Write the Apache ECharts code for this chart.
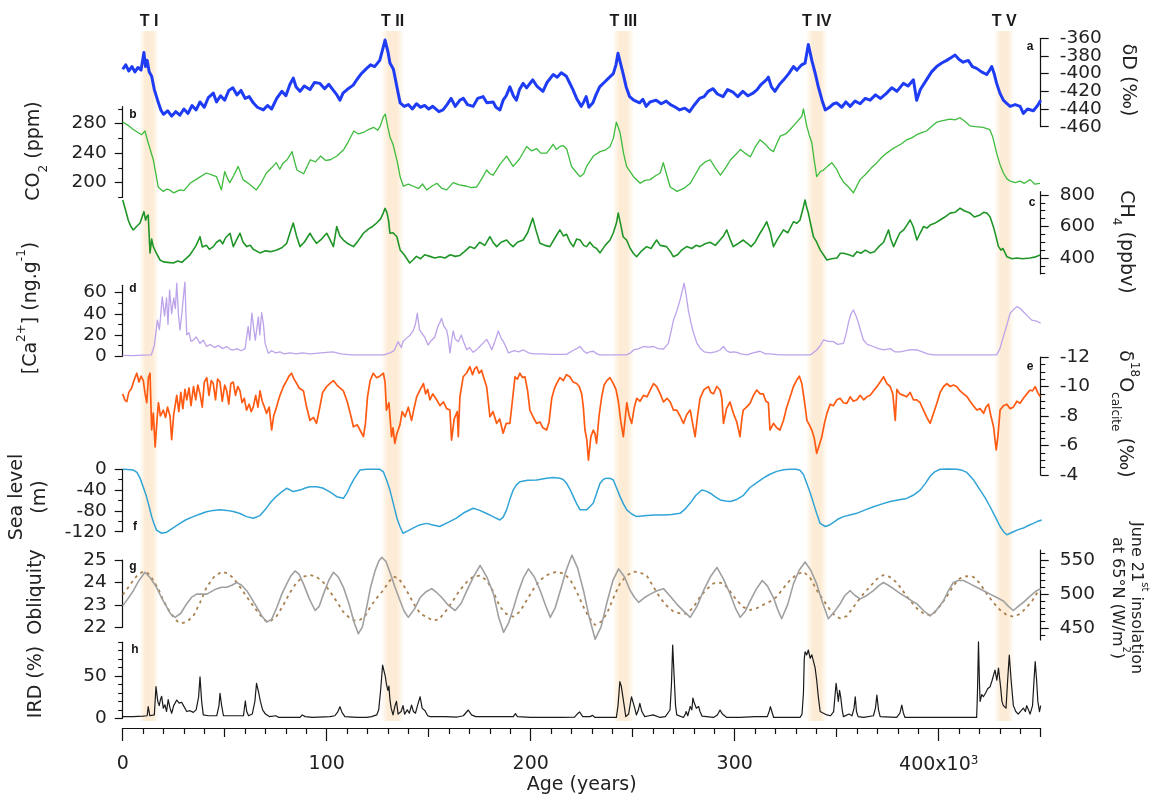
<!DOCTYPE html>
<html><head><meta charset="utf-8">
<script src="https://cdn.jsdelivr.net/npm/echarts@6/dist/echarts.min.js"></script>
<style>html,body{margin:0;padding:0;background:#fff}#c{width:1153px;height:800px}</style>
</head><body><div id="c"></div><script>
// ---------- DATA (age in kyr, value) ----------
const bandStart = [8.5, 127, 240.5, 335.3, 427.7];
const bandEnd   = [17.3, 137.6, 250.3, 345.1, 436.5];
const bandNames = ['T I', 'T II', 'T III', 'T IV', 'T V'];

const xMajor = [0, 100, 200, 300, 400];
const xMid = [50, 150, 250, 350, 450];
const xMinor = [10,20,30,40,60,70,80,90,110,120,130,140,160,170,180,190,210,220,230,240,260,270,280,290,310,320,330,340,360,370,380,390,410,420,430,440];

const dDTicks = [-460,-440,-420,-400,-380,-360];
const dDLabelsA = [-460,-420,-380], dDLabelsB = [-440,-400,-360];
const co2Ticks = [200,240,280], co2Minor = [180,220,260,300];
const ch4Ticks = [400,600,800], ch4Minor = [300,350,450,500,550,650,700,750];
const caTicks = [0,20,40,60], caMinor = [10,30,50];
const d18OTicks = [-12,-10,-8,-6,-4], d18OMinor = [-11.5,-11,-10.5,-9.5,-9,-8.5,-7.5,-7,-6.5,-5.5,-5,-4.5];
const seaTicks = [0,-40,-80,-120], seaMinor = [-20,-60,-100];
const oblTicks = [22,23,24,25];
const insTicks = [450,500,550], insMinor = [440,460,470,480,490,510,520,530,540,560];
const irdTicks = [0,50], irdMinor = [10,20,30,40,60,70,80,90];

const dD = [[0,-395],[1.5,-390],[3,-397],[4.5,-392],[6,-398],[7.5,-393],[9,-396],[10.4,-376],[11.2,-392],[12,-385],[13,-398],[14.2,-403],[15.5,-418],[17.1,-430],[18.7,-441],[20,-446],[22,-442],[24,-448],[26,-443],[28,-447],[30,-440],[32,-445],[34,-436],[36,-441],[37.9,-432],[40,-438],[42,-427],[44.4,-422],[46,-432],[48,-425],[50,-430],[52,-419],[54,-416],[56,-424],[58,-419],[60,-428],[62,-426],[64,-433],[66,-438],[68.9,-441],[71,-436],[73,-440],[75.5,-428],[78,-420],[80,-425],[82,-412],[83.6,-405],[85,-415],[86.9,-420],[89,-414],[91.8,-418],[94,-410],[96.7,-411],[99,-417],[101,-412],[103,-418],[105,-424],[106.5,-430],[108,-422],[110,-418],[113,-413],[115,-406],[117,-400],[119.6,-394],[121.5,-390],[123.5,-392],[126,-385],[127.5,-372],[128.6,-362],[130,-375],[131,-388],[132.7,-395],[134.5,-416],[136,-433],[138,-437],[140,-435],[142,-440],[144,-434],[146,-438],[148,-436],[150,-440],[152,-437],[155,-443],[157,-441],[159,-435],[161,-428],[163,-437],[165.3,-430],[167,-428],[169,-435],[171.8,-437],[174,-428],[176.7,-426],[178.5,-433],[181.6,-432],[183,-438],[184.9,-441],[186.5,-430],[188,-425],[189.8,-415],[191.5,-425],[193,-430],[194.5,-418],[196.3,-411],[198,-416],[200,-410],[201,-407],[203,-414],[206,-420],[208,-410],[211,-401],[213,-404],[215,-399],[217.5,-403],[219,-410],[220.7,-418],[222.5,-428],[224.8,-437],[226,-432],[227.2,-426],[228.5,-438],[230.5,-433],[232,-424],[233.8,-415],[236,-410],[238.7,-404],[240.5,-400],[241.8,-390],[242.8,-377],[244,-388],[245.2,-399],[246.8,-415],[248.5,-426],[250.5,-430],[253.4,-433],[255,-429],[256.6,-437],[258.5,-432],[261.5,-430],[264,-434],[266.4,-431],[268.5,-435],[271,-438],[273,-441],[275.5,-439],[277.9,-443],[280,-436],[282.8,-428],[285,-426],[287,-420],[289.4,-417],[291.5,-423],[294.3,-426],[296.5,-418],[299.2,-421],[301.5,-426],[304,-420],[306.5,-425],[309,-422],[311,-418],[313,-412],[315.5,-407],[316.5,-404],[318,-415],[319.7,-420],[322,-412],[324,-407],[326.5,-400],[328.8,-392],[330.5,-396],[332.8,-390],[334.5,-388],[336.1,-367],[337.8,-385],[339.5,-400],[341,-415],[342.8,-430],[344.4,-441],[346.5,-438],[348.5,-434],[350,-433],[352.5,-438],[354.5,-432],[356.6,-437],[359,-431],[361.5,-434],[364,-428],[366.4,-430],[369,-424],[371.5,-428],[374.5,-422],[377,-416],[379.5,-420],[382.7,-411],[385,-414],[387.6,-407],[389.2,-430],[391,-418],[394,-407],[396.5,-398],[399,-392],[401.5,-388],[403.9,-385],[406,-382],[408,-379],[410,-384],[412,-387],[414.5,-385],[416.5,-392],[418.6,-394],[421,-398],[423.5,-401],[425,-396],[426,-392],[427.2,-400],[428.4,-411],[430,-422],[431.7,-430],[433.5,-434],[435,-437],[437.5,-435],[439.9,-437],[441.5,-445],[443.5,-440],[446.4,-442],[448.5,-436],[450,-430]];

const co2 = [[0,282],[2.5,278],[5.2,272],[7.5,268],[9.3,265],[10.9,270],[12.5,254],[15,231],[17.4,194],[19.9,188],[21.5,191],[23,190],[25,186],[28,190],[30,189],[33,199],[37,206],[41,213],[44,210],[46,208],[48.4,190],[50,215],[51.5,205],[52.5,200],[54.5,210],[56.6,222],[59,204],[62,198],[65.5,190],[68,200],[70.4,213],[73,220],[75.3,227],[77,218],[78.5,226],[80.6,231],[83,242],[85.4,217],[88.7,212],[92,231],[94.5,228],[97,236],[99.5,230],[101.8,231],[105,236],[108.4,245],[110.5,255],[113.3,270],[115.5,266],[118,268],[120.5,272],[123,275],[125,271],[126.3,277],[127.7,289],[128.7,293],[130,275],[131,262],[132.5,252],[134.6,228],[136,208],[137.6,195],[140,198],[142.5,195],[145,192],[147,198],[149,190],[151.5,195],[154,199],[156.5,192],[158.8,190],[162,200],[165,197],[168.6,195],[171,193],[173.5,194],[176,205],[178.4,217],[180,212],[181.6,210],[185,225],[188.2,236],[191.4,222],[194.5,232],[198,249],[200.5,243],[202.9,246],[205,240],[207.8,240],[209.5,246],[211,252],[212.5,245],[214.4,249],[216,250],[217.6,246],[220,222],[222,215],[224.2,208],[226,212],[227.4,222],[230.7,236],[234,242],[236.5,244],[238.9,249],[240.5,260],[242,282],[243.8,268],[245.5,240],[247,222],[250.4,208],[253.7,199],[256,203],[258.6,204],[261,209],[263.5,213],[265,227],[266.5,212],[268.4,194],[271.7,188],[275,192],[278.2,199],[280.5,210],[283,222],[285.5,228],[288,231],[290.5,220],[293,210],[295.5,220],[298,231],[300.5,238],[302.8,245],[305,240],[307.7,235],[310,248],[312.4,258],[315,252],[317.3,245],[319,242],[320.5,252],[322.3,263],[325,266],[327.2,272],[330.4,282],[332.9,290],[333.7,300],[335.3,277],[336.5,265],[337.8,254],[339,230],[340.2,208],[342,215],[343.5,217],[345.5,222],[347.6,227],[350,218],[351.7,208],[353.5,200],[355.8,194],[358.2,186],[360,196],[361.5,204],[364.8,213],[367,220],[369.7,227],[372,234],[374.5,240],[377,245],[379.4,249],[382,253],[384.3,258],[387,261],[389.2,265],[392,268],[394,270],[396.5,276],[399,282],[402,284],[405.5,286],[408,285],[410.4,288],[413,283],[415.3,277],[418,276],[421.8,275],[425,272],[426.5,262],[428.4,240],[430,225],[431.7,213],[433.5,205],[435,202],[437.5,200],[439.9,202],[442,199],[444.8,204],[447,198],[449.7,199]];

const ch4 = [[0,768],[1.5,700],[2.7,641],[4,600],[5.2,578],[6.8,600],[8.5,622],[9.5,660],[10.4,694],[11.2,640],[11.7,660],[12.5,673],[13.4,432],[14.2,520],[15,472],[16.5,430],[18.3,387],[20,375],[22,372],[24.8,368],[27,380],[29,372],[31.4,400],[33,420],[34.6,451],[36,480],[37.9,535],[39,470],[41,480],[42.5,455],[44.4,472],[46,500],[47.7,514],[49,490],[50.5,530],[52.6,557],[54.2,472],[56,520],[57.5,557],[59,500],[60.8,472],[62.5,480],[64,455],[67.3,432],[70,445],[72.5,440],[75.5,451],[78,465],[80.4,493],[82,560],[83.6,622],[85.2,540],[86.9,472],[89,500],[91.8,557],[93.5,520],[95,493],[97.5,520],[100,557],[101.5,520],[103.3,472],[104.9,599],[106.5,540],[108.2,514],[110.5,490],[113.1,472],[115.5,510],[118,557],[120.5,585],[122.5,600],[124.5,622],[126.5,650],[127.7,685],[128.6,715],[129.5,690],[130.3,640],[131,557],[132.5,560],[134.4,535],[136,451],[138,420],[140.7,368],[142.5,390],[144,410],[146,395],[148,420],[150.6,410],[153,400],[155.5,408],[158,400],[160.5,420],[163,410],[165.3,416],[167.5,440],[170.2,472],[172.5,460],[175,500],[177.5,480],[180,535],[181.5,500],[183.3,472],[185.5,500],[188.2,514],[189.8,490],[191.4,472],[193.5,500],[196.3,514],[198.5,560],[201,653],[202.5,580],[204.5,493],[207,480],[209.4,472],[212,530],[214.3,578],[216,540],[217.6,550],[219.3,500],[220.9,472],[222.5,520],[224.2,514],[226,480],[227.4,472],[229,500],[230.7,472],[232.3,460],[234,432],[236.5,480],[238.9,514],[240.5,560],[242,620],[242.9,685],[244,620],[245.3,535],[247,514],[248.8,460],[250.3,430],[251.9,408],[254,440],[256.8,472],[259,460],[261.7,514],[263.5,480],[266.6,472],[268.5,440],[269.9,408],[272,420],[274,450],[276.4,472],[279,460],[281,480],[283,472],[285.5,490],[287.9,500],[290.5,480],[292.8,514],[294.5,540],[296.1,578],[297.7,520],[299.3,472],[301.5,490],[304.2,514],[306.5,490],[308,472],[310,500],[312.4,557],[314,590],[315.7,630],[317.5,560],[319,472],[321,520],[323.9,578],[326,560],[328.8,630],[330.5,620],[332,641],[333.2,700],[334.5,768],[335.3,720],[336.1,685],[337.5,600],[338.6,535],[340.2,500],[341.9,451],[343.5,420],[345.2,387],[347.5,395],[350.1,400],[351.8,430],[353.4,430],[356,420],[358,410],[359.9,440],[362,430],[364,450],[366.4,432],[368.5,440],[370.5,470],[373,500],[374.2,540],[375.4,578],[376.5,520],[377.9,472],[379.5,520],[381,560],[382.8,578],[384.5,610],[386,641],[387.5,600],[389.3,514],[391,560],[392.6,600],[394.2,590],[395.8,609],[398,620],[400.7,641],[403,660],[405.6,685],[408,690],[410.5,716],[412.5,700],[415.4,685],[417.5,660],[420.3,673],[422,690],[423.6,685],[425.2,660],[426.8,599],[428,540],[429.3,472],[430.5,450],[431.5,460],[433.4,408],[436,395],[438.3,400],[441,395],[444.8,400],[447,405],[449.7,419]];

const ca = [[0,0.5],[5,0.3],[10,0.8],[14,1],[15.5,10],[17,34],[18,25],[19.4,56],[20.5,38],[21.5,55],[22.2,30],[23,62.6],[24,40],[25,55],[25.8,45],[26.5,69],[27.3,40],[28.1,24.6],[29,40],[29.7,55],[30.5,70],[31,40],[31.4,20],[32.5,22],[33.5,14],[34.6,15],[36,18],[37.9,12],[39.5,15],[41.1,9],[43,11],[45,8],[47,10],[49,7],[51,9],[53,6],[54.2,5.7],[56,7],[58,5],[60,7],[61.5,28],[62.3,15],[63.3,40.6],[64.3,25],[65,15],[66.5,37],[67.2,20],[68.1,41],[69,30],[69.8,12],[71.4,2.5],[73,5],[75,3],[77.1,4],[79,2],[82,3],[85,2],[88,3],[92,2],[97,3],[103,4],[107,2],[112,1],[120,1],[128,1],[131,3],[133,5],[135,13.6],[136.5,8],[137.5,14],[139,16.7],[141,20],[142.5,24.6],[143.5,30],[144.4,40.5],[145.5,25],[146.5,22],[148,18],[149.7,10.4],[151,14],[153,18],[154.5,28],[155.5,32],[156.3,35.7],[157.5,28],[158.8,24.6],[159.5,18],[160.4,3],[161.2,14],[162,23.7],[163,16],[164.5,13.6],[166,19.9],[167,14],[168.6,6],[170,8],[171.8,3.5],[173.5,6],[175,9],[176.5,12],[178.4,15.8],[179.5,12],[180.9,6],[182.5,14],[184.1,23.7],[185.5,17],[186.6,13.6],[188,8],[189,3],[192,5],[194,4],[196.4,5.7],[199,3],[201.3,2],[205,2],[210,1.5],[217.6,1.5],[220.5,5],[222.5,7],[224.2,9],[225.8,5],[227.4,2.5],[229,4],[230.7,4.5],[232.5,2],[234,1],[240,1],[247,1],[249,3],[250.4,5.7],[253,7],[255.3,9],[258,8.5],[260.2,9],[262.5,7],[265.1,6.6],[267.5,12],[269,25],[270,34],[271.5,42],[273.2,53],[274.3,62],[275.2,69],[276.2,58],[277.3,43],[278.5,32],[279.8,22],[281.5,12],[283,7.6],[285,4],[287.9,3],[290.5,4],[292.8,5.7],[294.5,9],[296,5],[297.7,3.5],[299.5,4],[301,3.5],[303,2],[306,1],[309,3],[312.4,4.5],[315,2],[317.3,2],[322,1],[328,1],[336.9,1],[338.5,3],[340.2,5.7],[342,10],[343.5,15.2],[345.5,14],[348.4,13.6],[350.5,11],[353.3,12],[354.5,20],[355.7,31],[357,40],[358.2,43.6],[359.5,38],[360.7,31],[362,22],[363.1,15.2],[365,11],[368,9],[370.5,7],[373,5.7],[376.2,7],[378.5,4],[381.1,4],[384,5],[386.5,6],[389.3,5.7],[392,4],[394.5,2],[397.5,1],[403,1],[408.9,1],[415,1],[420,1],[428.4,1],[430,7],[431.7,18.3],[433.5,30],[435,40.5],[436.7,44],[438.3,46.8],[440,45],[441.5,42],[443.5,38],[445.6,34],[448,33],[450,31]];

const d18O = [[0,-9.5],[1,-9.1],[2,-8.97],[3,-9.6],[4.4,-9.9],[5.5,-10.4],[6.9,-10.9],[8,-10.3],[9,-10.7],[10.1,-10.4],[11,-9.5],[11.8,-8.9],[12.6,-10.6],[13.4,-10.9],[14.2,-7.05],[15,-8.2],[15.9,-5.9],[16.7,-7.5],[17.5,-8.9],[18.5,-8.0],[19.9,-8.4],[21,-7.9],[22,-8.6],[23.2,-8.0],[24,-6.4],[25,-8.1],[26.5,-9.4],[27.5,-8.3],[28.5,-9.6],[29.5,-8.5],[30.5,-9.8],[31.4,-9.1],[32.5,-9.9],[33.5,-8.7],[34.7,-10.0],[35.8,-9.1],[36.8,-10.1],[37.9,-9.5],[39,-8.6],[40,-10.3],[41.2,-10.6],[42.3,-9.4],[43.4,-10.4],[44.4,-10.2],[45.5,-9.1],[46.5,-10.5],[47.7,-10.3],[48.8,-9.0],[50,-10.1],[51,-9.7],[52,-8.8],[53,-10.2],[54.2,-10.3],[55.3,-9.4],[56.4,-10.0],[57.5,-9.7],[58.5,-8.9],[59.6,-9.2],[60.7,-8.4],[62,-8.8],[63,-8.3],[64,-8.6],[65.2,-9.4],[66.3,-8.6],[67.3,-9.7],[68.4,-9.0],[69.5,-8.6],[70.5,-8.18],[71.8,-8.6],[73,-7.05],[74,-8.0],[75.2,-8.5],[76.2,-9.0],[77.1,-9.4],[78.8,-10.0],[80.4,-10.4],[81.5,-10.7],[82.8,-10.9],[84,-10.5],[85.3,-10.2],[86.5,-9.9],[88.6,-9.7],[90,-8.7],[91.8,-7.7],[93.5,-7.9],[95,-7.5],[96.5,-8.5],[98,-9.6],[100,-10.0],[101.5,-10.2],[103.3,-10.4],[105,-10.1],[106.5,-9.9],[108.2,-9.7],[110,-9.0],[111.5,-8.2],[113.1,-7.27],[115,-7.4],[116.5,-7.0],[118,-6.6],[119,-7.5],[120,-9.3],[121.3,-10.4],[122.8,-10.9],[124.5,-10.6],[126,-10.7],[127.8,-10.9],[128.6,-10.3],[129.3,-8.4],[130.5,-8.9],[131.8,-6.6],[132.5,-7.2],[133.4,-6.15],[134.4,-6.8],[135.9,-7.4],[137,-8.3],[138.4,-7.95],[140,-8.6],[141.6,-7.7],[142.8,-8.5],[144.1,-9.3],[145.5,-9.7],[147.4,-10.2],[148.5,-9.5],[149.5,-9.8],[150.6,-9.1],[152,-9.5],[153.9,-9.1],[155.5,-8.7],[157.2,-8.95],[158.8,-8.5],[160.4,-8.4],[161.2,-6.37],[162.5,-7.8],[164,-8.3],[164.5,-6.6],[165.3,-9.3],[166.9,-10.66],[168.5,-10.9],[170.2,-11.34],[171.5,-10.8],[172.5,-11.2],[173.5,-11.34],[174.7,-10.9],[175.9,-11.1],[177,-10.6],[178.4,-9.99],[179.2,-9.0],[180,-7.95],[181.5,-8.3],[183.3,-7.5],[184.8,-7.8],[186.5,-6.83],[188,-7.5],[189.8,-7.5],[191,-9.0],[192.3,-10.66],[193.5,-10.5],[194.7,-10.9],[196,-10.6],[197.2,-10.66],[198.5,-9.7],[199.6,-8.4],[201.3,-7.9],[202.9,-7.5],[204.5,-7.6],[206,-7.2],[207.8,-7.05],[209,-7.6],[210.3,-9.2],[211.5,-9.8],[212.7,-10.2],[214.3,-10.6],[216,-10.4],[217.5,-10.8],[219.2,-10.66],[220.8,-10.3],[222.5,-10.2],[223.8,-10.0],[225,-9.5],[225.8,-8.6],[226.6,-7.05],[227.5,-6.4],[228.3,-5.0],[229.5,-6.6],[230.7,-7.05],[231.5,-6.8],[232.3,-6.15],[233.5,-8.0],[234.8,-9.3],[236,-10.1],[237.3,-10.4],[238.9,-10.6],[240.5,-10.2],[241.8,-9.8],[243,-8.95],[244.2,-7.6],[245.4,-6.6],[246.3,-7.8],[247.1,-8.9],[248.3,-8.0],[249.5,-7.5],[250.8,-8.6],[252,-9.2],[253.6,-9.0],[255.3,-9.4],[257,-9.3],[258.6,-9.76],[260.2,-10.2],[261.8,-9.99],[263.5,-9.5],[265.1,-8.95],[266.8,-9.2],[268.4,-8.95],[270,-8.4],[271.6,-8.4],[273.2,-8.0],[274.9,-7.5],[276.5,-8.1],[278.2,-8.4],[279.5,-7.4],[280.6,-6.6],[281.8,-8.0],[283,-9.2],[285,-9.8],[287.1,-9.99],[288.3,-9.6],[289.6,-9.5],[291.2,-10.0],[292.8,-9.76],[293.7,-9.2],[294.5,-7.5],[296,-8.5],[297.7,-8.95],[299.3,-8.2],[301,-7.6],[302.6,-6.6],[303.5,-7.8],[304.2,-8.4],[305.8,-8.6],[307.5,-8.86],[309.2,-9.4],[310.8,-9.76],[312.5,-9.5],[314,-9.5],[315.3,-9.0],[316.5,-8.9],[317.3,-7.05],[319,-7.5],[320.6,-7.2],[322.2,-7.05],[323.9,-7.7],[325.5,-8.6],[327.2,-9.3],[328.8,-10.0],[330.4,-10.44],[331.7,-10.7],[332.9,-10.2],[334.2,-9.0],[335.4,-7.7],[336.6,-7.4],[337.8,-7.05],[339,-6.5],[340.2,-5.47],[341.4,-6.0],[342.7,-6.6],[344,-7.5],[345.2,-8.18],[346.8,-8.8],[348.4,-8.7],[350.1,-9.1],[351.7,-9.2],[353.3,-8.9],[355,-8.86],[356.6,-9.3],[358.2,-9.0],[359.9,-9.1],[361.5,-9.4],[363.2,-9.1],[364.8,-9.3],[366.4,-9.4],[368,-9.7],[369.7,-9.99],[371.3,-10.3],[373,-10.66],[374.6,-10.2],[376.2,-10.0],[377.5,-9.5],[378.7,-7.7],[379.5,-9.8],[381,-9.5],[382.7,-9.4],[384.3,-9.3],[386,-9.6],[387.6,-9.1],[389.2,-9.1],[390.9,-8.9],[392.5,-8.4],[394.2,-7.9],[395.8,-7.5],[397.5,-8.2],[399.1,-8.86],[400.7,-9.6],[402.4,-10.0],[404,-10.2],[405.6,-10.0],[407.3,-10.1],[408.9,-9.99],[410.5,-9.7],[412.2,-9.5],[413.8,-9.32],[415.4,-9.0],[417,-8.7],[418.7,-8.4],[420.3,-8.5],[422,-8.18],[423.2,-8.6],[424.4,-8.8],[425.6,-8.0],[426.9,-7.27],[427.6,-6.4],[428.2,-5.7],[429,-6.6],[430.1,-8.4],[431.7,-8.7],[433.4,-8.8],[435,-8.5],[436.6,-8.6],[438.3,-9.0],[439.9,-8.86],[441.5,-9.2],[443.2,-9.5],[444.8,-9.76],[446,-9.7],[447.3,-9.99],[448.5,-9.6],[449.7,-9.32]];

const sea = [[0,0],[2.5,-0.5],[5.2,-1.5],[7,-6],[8.5,-17],[10,-33],[11.7,-53],[13,-72],[14.2,-91],[15.4,-105],[16.6,-117],[19.1,-123],[21.6,-121],[24.5,-113],[28.1,-104],[31,-97],[34.6,-91],[38,-86],[41.1,-81.5],[44.5,-79],[47.7,-78],[51,-79],[54.2,-81],[57.5,-85],[60.7,-91],[64,-94],[67.3,-89],[70,-77],[72.2,-65],[74.5,-55],[77.1,-46],[80.4,-36.5],[83.6,-42.8],[86.9,-40],[89.5,-36],[91.8,-33.4],[95,-33.4],[98,-36],[100,-40],[102.5,-46],[104.9,-52.6],[108.2,-55.8],[110,-45],[111.4,-33],[113.5,-18],[116.3,-1.3],[119.6,0],[123,0],[126.1,0],[127.8,-5],[129.3,-20],[131,-40],[132.6,-65],[134.5,-95],[135.9,-110],[137.4,-123],[140,-118],[142.3,-113],[145.5,-107],[148.9,-104],[152,-107],[155.4,-110],[159.5,-102],[163.6,-94],[167.5,-83],[171.8,-75],[175,-79],[178.4,-85],[181.5,-91],[184.9,-97.5],[186.5,-92],[188.2,-78],[190,-55],[191.4,-40],[193,-30],[194.7,-23.8],[198.5,-21],[202.9,-20.5],[207.8,-17],[211,-16],[214.3,-17],[216,-20],[217.6,-27],[219.2,-38],[220.9,-52.6],[222.5,-66],[224.2,-78],[227.4,-78],[229,-72],[230.7,-65],[232.4,-45],[234,-27],[235.7,-19],[237.3,-17],[239,-17.5],[240.5,-20.5],[242,-35],[243.8,-52.6],[245.5,-67],[247.1,-78],[249.5,-86],[252,-91],[256.9,-89],[261,-88],[265.1,-88],[269,-87],[273.2,-84.7],[275.8,-76],[278.2,-65],[281,-50],[283.9,-39.8],[286,-42],[288,-46],[290.5,-53],[292.9,-59],[295.5,-61],[297.8,-62],[301,-58],[304.3,-50],[307.5,-35],[310,-28],[314,-17],[317,-10],[320.6,-4],[324,-1],[327.1,0],[330,0],[332,-2],[333.7,-10],[335.3,-27],[337,-45],[338.6,-65],[340.2,-85],[341.9,-104],[344.4,-110],[346.5,-107],[348.4,-102],[351,-95],[353.3,-91],[356.5,-88],[359.8,-84.7],[364,-78],[368,-72],[372,-67],[376.2,-62],[380,-59],[384.3,-56],[387.5,-50],[390.9,-40],[393.5,-27],[395.8,-13.4],[398,-5],[400.7,0],[404,0.5],[408.9,0],[411.5,-2],[413.8,-6],[417,-20],[420.3,-40],[422.8,-55],[425.2,-72],[427.8,-92],[430.1,-110],[431.8,-120],[433.4,-126],[435,-123],[436.6,-120],[439,-116],[441.5,-113],[444,-108],[446.4,-104],[448.5,-100],[450.5,-97.5]];

const obliquity = [[0,23.45],[2.5,23.75],[5.2,24.1],[7.5,24.35],[10,24.48],[12.5,24.4],[15,24.1],[17.5,23.7],[19.9,23.2],[22.3,22.8],[24.8,22.47],[27,22.25],[28.9,22.18],[31.5,22.25],[34.6,22.5],[37.9,23.1],[41.2,23.8],[44.8,24.25],[48.5,24.48],[51.5,24.4],[54.2,24.2],[57.5,23.8],[60.8,23.36],[64,22.95],[67.3,22.55],[70,22.3],[72.2,22.25],[75.5,22.5],[78.8,23.0],[82,23.55],[85.3,24.0],[88.5,24.25],[91.8,24.33],[95,24.25],[98.4,24.0],[101.5,23.6],[104.9,23.15],[108,22.7],[111.4,22.4],[114,22.3],[116.3,22.33],[118.8,22.5],[121.3,22.9],[124.5,23.3],[127.8,23.66],[130.2,24.0],[132.6,24.26],[135,24.2],[137.5,23.9],[140,23.5],[143,23.0],[146,22.6],[149,22.46],[152,22.3],[155,22.35],[158.8,22.77],[162,23.2],[165.3,23.66],[168.5,24.0],[171.8,24.26],[175,24.3],[178.4,24.1],[181.6,23.6],[184.9,22.92],[188,22.6],[191.4,22.47],[194.7,22.7],[198,23.2],[201.3,23.7],[204.5,24.1],[208.5,24.35],[212.7,24.48],[216,24.4],[219.2,24.15],[222.5,23.6],[225.8,22.92],[228.5,22.45],[231.5,22.1],[234.5,22.25],[237.3,22.6],[240.5,23.3],[243.8,23.96],[247,24.3],[250.4,24.48],[253.5,24.45],[256.9,24.3],[260.2,23.8],[263.5,23.3],[266.8,22.95],[270,22.7],[273.2,22.62],[276.5,22.6],[279.8,22.9],[283,23.36],[286.3,23.7],[289.6,23.96],[292,24.0],[294.5,23.96],[297.8,23.6],[301,23.2],[304.2,22.9],[307.5,22.77],[310.8,22.85],[314,23.0],[317.3,23.15],[320.6,23.36],[323.9,23.75],[327.1,24.1],[330.4,24.35],[333.7,24.48],[337,24.2],[340.2,23.66],[343.5,23.2],[346.8,22.77],[349.3,22.5],[351.7,22.4],[355,22.5],[358.2,22.9],[362.3,23.4],[366.3,23.81],[369.6,24.15],[372.9,24.33],[376,24.25],[379.4,24.0],[382.6,23.6],[385.9,23.2],[389.2,22.85],[392.5,22.62],[395,22.55],[397.4,22.6],[400.6,22.95],[403.9,23.36],[407.2,23.85],[410.4,24.18],[413.7,24.28],[417,24.25],[420.3,23.95],[423.5,23.5],[426.8,23.1],[430.1,22.77],[433.4,22.55],[436.6,22.47],[440,22.6],[443.2,22.9],[446,23.2],[448,23.5],[450,23.7]];

const insolation = [[0,483],[2.5,493],[5.2,505],[8,520],[10.9,532],[13.5,524],[16.6,510],[19,495],[21.6,481],[23.5,471],[25.7,466],[28.5,472],[31.4,486],[34,496],[36.3,500],[38.8,500],[41.2,500],[43.6,504],[46.1,508],[48.5,510],[51,510],[53.5,513],[55.9,517],[58.3,513],[60.8,505],[63.3,493],[65.7,481],[68.2,468],[70.6,459],[73,463],[75.5,480],[78,500],[80.4,515],[82.5,527],[84.5,534],[86.5,529],[88.6,515],[91.5,493],[94.3,476],[96.3,482],[98.4,500],[101,520],[103.3,532],[105.7,525],[108.2,510],[111,485],[113.5,458],[115.5,442],[117.5,452],[119.6,481],[121.5,510],[123.7,534],[125.5,548],[127,554],[129,548],[131,532],[133.5,510],[136,490],[138,475],[140,466],[143,478],[145.8,495],[148.5,503],[151.5,508],[154,502],[156.4,495],[159.8,483],[163,476],[166,487],[168.7,505],[171.9,525],[175.2,542],[178.5,525],[181.8,500],[184.3,466],[186.7,444],[189.2,458],[191.6,480],[194,504],[196.6,525],[198.9,537],[201.8,525],[204.7,505],[207.2,484],[209.6,466],[212,480],[214.5,505],[217.4,535],[220.2,557],[223,538],[225.9,505],[228.7,466],[231.6,434],[234.5,452],[237.4,488],[240.3,520],[243.1,537],[246,525],[248.8,505],[250.9,495],[252.9,488],[255.8,495],[258.6,500],[261.9,505],[265.1,508],[268.4,497],[271.7,485],[275,475],[278.2,466],[281.5,482],[284.7,505],[288,525],[291.3,539],[294.5,522],[297.8,500],[300.3,480],[302.7,466],[305.2,475],[307.6,490],[310.5,507],[313.5,520],[316,512],[319,495],[321,478],[323,464],[326,485],[328.8,515],[331.6,535],[334.5,547],[337.3,535],[340.2,515],[343,488],[345.9,464],[348.8,474],[351.7,486],[354,498],[356.6,505],[359,498],[361.5,493],[364.8,498],[368,505],[370.5,512],[372.9,517],[375.3,513],[377.8,508],[381,501],[384.3,495],[386.8,490],[389.2,486],[392.5,476],[395.8,468],[399,477],[402.3,490],[404.8,505],[407.2,517],[409.6,520],[412.1,520],[415.4,515],[418.6,510],[422,505],[425.2,500],[428.5,495],[431.7,490],[434.2,482],[436.6,476],[439,482],[441.5,488],[444.8,497],[448,505],[450,508]];

const ird = [[0,2],[5,2],[10,2.5],[12,3],[12.5,13.7],[13.3,3],[15.5,4],[16.3,37.4],[17.2,20],[17.9,15],[18.5,22],[19.1,26],[19.9,12],[20.7,16],[21.5,8],[22.3,22],[23.2,12],[24,6],[25,15],[26.5,21.6],[27.7,18],[28.9,19],[29.8,15],[31.4,8],[33,9],[34.6,7],[36,10],[37.2,25],[37.9,49],[38.7,20],[39.5,4],[42,3],[46.1,3],[47.2,15],[47.7,29.5],[48.5,15],[49.4,3],[55,3],[59.2,3],[60.1,20.5],[60.8,8],[61.7,3],[63.5,5],[64.8,20],[65.6,41.4],[66.5,32],[67.5,20],[68.6,10],[70,5],[71.9,2],[75.1,3],[76.5,1],[86.9,1],[88,4],[88.6,5.5],[89.5,2],[93,1],[101.7,2],[104,3],[105.5,8],[106.5,13.7],[107.5,7],[108.9,2],[115,1],[119.6,1],[122,2],[124.5,4],[125.5,10],[126.5,35],[127.4,63],[128,65],[128.7,50],[129.3,40],[130,33],[130.5,38],[131,22],[131.6,12],[132.5,4],[133.5,15],[134.2,20],[135,5],[136.5,8],[137.4,15],[138.2,5],[139.5,10],[140.5,6],[141.6,15.5],[142.5,8],[143.5,6],[144.5,15],[145.8,25.5],[146.8,12],[148.2,9],[149.5,3],[150.7,2],[158,2],[164,1.5],[167,3],[169.4,9.8],[171,4],[173,2],[180,2],[188,2],[191.5,2],[192.5,5.5],[193.5,2],[200,1],[215,1],[221.5,1.5],[222.8,5],[224,7.5],[225.5,2],[229,2],[230.4,3.5],[231.5,1],[242,1],[242.8,15],[243.7,43.3],[244.4,38],[245.3,37.4],[246,12],[246.6,2],[248,5],[249,20],[249.4,25.5],[250.3,18],[251,12],[251.8,4],[252.8,10],[253.5,17.7],[254.5,8],[255.9,2],[258,3],[260,4],[263.4,1],[266,2],[268.3,9.8],[269,40],[269.6,86.6],[270.3,50],[271,15],[271.6,4],[274.9,1],[275.8,5],[276.2,8],[277,3],[278.2,14],[279,10],[279.5,24],[280.2,18],[281.2,12],[282.3,14],[283,8],[284,2.5],[289.6,1],[291.5,4],[292.8,9.8],[294,5],[296.1,1],[302.6,1],[310,2],[316,2],[317,9],[317.5,13.7],[318.2,8],[319.1,1],[332,1],[333,5],[333.7,30],[334.1,70],[334.5,78.7],[335.3,75],[336.1,80.7],[337,71],[337.8,75],[338.6,72.8],[339.4,60],[340.2,45],[341,25],[341.9,8],[343.5,6],[345.2,4],[347,3],[348.5,8],[349.7,41.4],[350.3,30],[350.8,20],[351.4,33],[352,24.5],[352.7,10],[353.3,2],[356,5],[357.5,3],[358.5,12],[359.1,25.5],[359.7,8],[360.5,2],[363.2,1],[368,3],[369,12],[369.7,27.5],[370.5,10],[371.3,2],[379.4,1],[381,6],[381.9,15.5],[382.7,6],[383.5,1],[418.6,1],[419,30],[419.5,90.5],[420,40],[420.3,20],[421.1,28],[421.9,25.5],[423,30],[424,35],[425.2,37.4],[426.2,45],[427,52],[427.6,57],[428.5,45],[429.3,59.4],[430.4,36],[431,20],[431.7,15],[433,12],[433.8,45],[434.6,74.8],[435.5,45],[436.6,15],[437.8,8],[439,5],[440,8],[441.5,12],[442.5,8],[443.1,15],[444,10],[444.8,5],[446,15],[446.6,40],[447.3,67],[448,45],[448.6,20],[449.4,8],[450,15]];

// ---------- CHART ----------
const FONT = 'DejaVu Sans';
const TXT = '#222';
const LEFT = 122.7, RIGHT = 112.3;
const grids = [
  {top: 31, height: 690},      // 0 bands
  {top: 38.3, height: 88.4},   // 1 dD
  {top: 106.7, height: 90.6},  // 2 CO2
  {top: 191.7, height: 82.3},  // 3 CH4
  {top: 285.3, height: 70.7},  // 4 Ca
  {top: 357, height: 118},     // 5 d18O
  {top: 469.3, height: 62.4},  // 6 sea level
  {top: 560, height: 67.3},    // 7 obliquity
  {top: 550, height: 90},      // 8 insolation
  {top: 642.2, height: 76.1}   // 9 IRD
].map(g => Object.assign({left: LEFT, right: RIGHT, containLabel: false}, g));

const xAxes = grids.map((g, i) => ({gridIndex: i, type: 'value', min: 0, max: 450, show: false}));
xAxes[9] = {
  gridIndex: 9, type: 'value', min: 0, max: 450, position: 'bottom', offset: 9.7, show: true,
  axisLine: {show: true, onZero: false, lineStyle: {color: '#111', width: 1.2}},
  axisTick: {show: true, customValues: xMajor, length: 13, lineStyle: {color: '#111', width: 1.2}},
  axisLabel: {show: true, customValues: xMajor, margin: 27, fontFamily: FONT, fontSize: 19, color: TXT,
    showMinLabel: true, showMaxLabel: true,
    formatter: v => v === 400 ? '400x10{sup|3}' : String(v),
    rich: {sup: {fontSize: 12, fontFamily: FONT, color: TXT, verticalAlign: 'top', padding: [0, 0, 8, 0]}}},
  splitLine: {show: false},
  name: 'Age (years)', nameLocation: 'middle', nameGap: 48,
  nameTextStyle: {fontFamily: FONT, fontSize: 19, color: TXT}
};
[[xMid, 9], [xMinor, 6]].forEach(([vals, len]) => xAxes.push({
  gridIndex: 9, type: 'value', min: 0, max: 450, position: 'bottom', offset: 9.7, show: true,
  axisLine: {show: false, onZero: false},
  axisTick: {show: true, customValues: vals, length: len, lineStyle: {color: '#111', width: 1.2}},
  axisLabel: {show: false}, splitLine: {show: false}
}));

const yAxes = [];
const labelStyle = pos => ({show: true, margin: pos === 'left' ? 16 : 19,
  showMinLabel: true, showMaxLabel: true, hideOverlap: false,
  fontFamily: FONT, fontSize: 18.5, color: TXT});
function addY(grid, pos, min, max, majors, minors, inverse, labelSets) {
  const idx = yAxes.length;
  const sets = labelSets || [majors];
  yAxes.push({gridIndex: grid, type: 'value', position: pos, min, max, inverse: !!inverse,
    axisLine: {show: true, onZero: false, lineStyle: {color: '#111', width: 1.2}},
    axisTick: {show: true, customValues: majors, length: 8, lineStyle: {color: '#111', width: 1.2}},
    axisLabel: Object.assign(labelStyle(pos), {customValues: sets[0]}),
    splitLine: {show: false}});
  sets.slice(1).forEach(s => yAxes.push({gridIndex: grid, type: 'value', position: pos, min, max, inverse: !!inverse,
    axisLine: {show: false, onZero: false}, axisTick: {show: false},
    axisLabel: Object.assign(labelStyle(pos), {customValues: s}), splitLine: {show: false}}));
  if (minors && minors.length) yAxes.push({gridIndex: grid, type: 'value', position: pos, min, max, inverse: !!inverse,
    axisLine: {show: false, onZero: false},
    axisTick: {show: true, customValues: minors, length: 4.5, lineStyle: {color: '#111', width: 1.1}},
    axisLabel: {show: false}, splitLine: {show: false}});
  return idx;
}
const yBand = yAxes.length; yAxes.push({gridIndex: 0, type: 'value', min: 0, max: 1, show: false});
const yD = addY(1, 'right', -460, -360, dDTicks, [], false, [dDLabelsA, dDLabelsB]);
const yCO2 = addY(2, 'left', 180, 303, co2Ticks, co2Minor);
const yCH4 = addY(3, 'right', 298, 821, ch4Ticks, ch4Minor);
const yCa = addY(4, 'left', 0, 67, caTicks, caMinor);
const yO = addY(5, 'right', -12, -4, d18OTicks, d18OMinor, true);
const ySea = addY(6, 'left', -120, 0, seaTicks, seaMinor);
const yObl = addY(7, 'left', 22, 25, oblTicks, []);
const yIns = addY(8, 'right', 432.8, 564.6, insTicks, insMinor);
const yIrd = addY(9, 'left', 0, 90, irdTicks, irdMinor);

function line(name, grid, yi, data, color, width, extra) {
  return Object.assign({name, type: 'line', xAxisIndex: grid, yAxisIndex: yi, data,
    showSymbol: false, symbol: 'none', clip: false, silent: true, z: 3,
    lineStyle: {color, width, join: 'round'}}, extra || {});
}

const bandGrad = new echarts.graphic.LinearGradient(0, 0, 1, 0, [
  {offset: 0, color: 'rgba(252,230,200,0.15)'},
  {offset: 0.3, color: 'rgba(251,222,186,0.6)'},
  {offset: 0.7, color: 'rgba(251,222,186,0.6)'},
  {offset: 1, color: 'rgba(252,230,200,0.15)'}
]);

const series = [
  {type: 'line', xAxisIndex: 0, yAxisIndex: yBand, data: [], silent: true, z: 1,
    markArea: {silent: true, itemStyle: {color: bandGrad},
      label: {show: true, position: 'top', distance: 1, color: '#1a1a1a', fontWeight: 'bold',
        fontSize: 16, fontFamily: 'Liberation Sans'},
      data: bandNames.map((n, i) => [{name: n, xAxis: bandStart[i]}, {xAxis: bandEnd[i]}])}},
  line('δD', 1, yD, dD, '#1f3cf5', 3),
  line('CO2', 2, yCO2, co2, '#3dbb3d', 1.3),
  line('CH4', 3, yCH4, ch4, '#1f9527', 1.6),
  line('Ca', 4, yCa, ca, '#bca3ea', 1.3),
  line('d18O', 5, yO, d18O, '#ff5a12', 1.7),
  line('Sea level', 6, ySea, sea, '#30a4d6', 1.5),
  line('Obliquity', 7, yObl, obliquity, '#a9814f', 1.8, {lineStyle: {color: '#a9814f', width: 1.8, type: [3, 4]}}),
  line('Insolation', 8, yIns, insolation, '#a0a0a0', 1.6),
  line('IRD', 9, yIrd, ird, '#1a1a1a', 1.2)
];

function richDefs(sz) {
  return {
    sub: {fontSize: sz, fontFamily: FONT, fill: TXT, verticalAlign: 'bottom', padding: [0, 0, -4, 0]},
    sup: {fontSize: sz, fontFamily: FONT, fill: TXT, verticalAlign: 'top', padding: [-4, 0, 0, 0]}
  };
}
function title(text, x, y, rot, size) {
  const fs = size || 19;
  return {type: 'text', x, y, rotation: rot * Math.PI / 180, silent: true,
    style: {text, fontSize: fs, fontFamily: FONT, fill: TXT, align: 'center', verticalAlign: 'middle',
      lineHeight: Math.round(fs * 1.2), rich: richDefs(Math.round(fs * 0.64))}};
}
function letter(t, x, y) {
  return {type: 'text', x, y, silent: true,
    style: {text: t, fontSize: 12, fontWeight: 'bold', fontFamily: 'Liberation Sans', fill: '#111',
      align: 'center', verticalAlign: 'middle'}};
}
const graphics = [
  title('δD (‰)', 1128, 80, -90),
  title('CO{sub|2} (ppm)', 34, 151, 90),
  title('CH{sub|4} (ppbv)', 1126, 242, -90),
  title('[Ca{sup|2+}] (ng.g{sup|-1})', 31, 308, 90),
  title('δ{sup|18}O{sub|calcite} (‰)', 1125, 414, -90),
  title('Sea level\n(m)', 29, 497, 90),
  title('June 21{sup|st} insolation\nat 65°N (W/m{sup|2})', 1127, 598, -90, 16),
  title('Obliquity', 36, 592, 90),
  title('IRD (%)', 36, 682, 90),
  letter('a', 1030, 47), letter('b', 133, 115), letter('c', 1032, 203), letter('d', 133, 289),
  letter('e', 1030, 367), letter('f', 135, 527), letter('g', 133, 567), letter('h', 135, 650)
];

const chart = echarts.init(document.getElementById('c'), null, {renderer: 'canvas'});
chart.setOption({
  animation: false,
  backgroundColor: '#fff',
  grid: grids,
  xAxis: xAxes,
  yAxis: yAxes,
  series,
  graphic: graphics
});
</script></body></html>
